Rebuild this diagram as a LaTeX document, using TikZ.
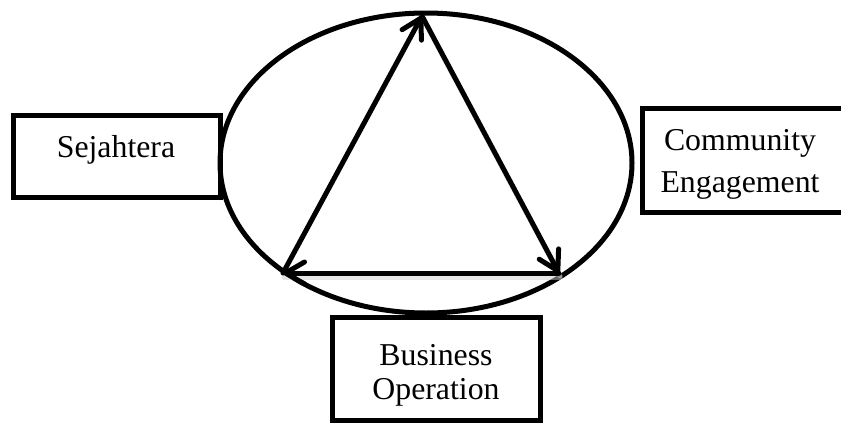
\documentclass[tikz,border=0pt]{standalone}
\usepackage{fontspec}
\setmainfont{Liberation Serif}
\usetikzlibrary{arrows.meta,shapes.geometric}

\tikzset{
  frame/.style={draw=black, line width=5pt, rectangle, inner sep=0pt},
  ring/.style={draw=black, line width=5pt, ellipse, inner sep=0pt},
  word/.style={font=\fontsize{31.8}{40}\selectfont, inner sep=0pt, anchor=base},
  link/.style={line width=5pt, line cap=round, line join=round,
    -{Straight Barb[length=19pt, width=22pt, line cap=round, line join=round]}},
  linkshade/.style={line width=5pt, line cap=round, draw=black!20, opacity=0.5}
}

\begin{document}
\begin{tikzpicture}[x=1pt, y=-1pt]
  \useasboundingbox (0,0) rectangle (841,423);

  % central cycle
  \node[ring, minimum width=412pt, minimum height=300pt] (cycle) at (426,163) {};

  \coordinate (top) at (422,16);
  \coordinate (left) at (283,273);
  \coordinate (right) at (559,273);

  % soft shading under the arrows
  \draw[linkshade] ([shift={(1,3)}]top) -- ([shift={(1,3)}]right);
  \draw[linkshade] ([shift={(1,4)}]right) -- ([shift={(1,4)}]left);

  \draw[link] (left) -- (top);
  \draw[link] (top) -- (right);
  \draw[link] (right) -- (left);

  % boxes
  \node[frame, minimum width=207pt, minimum height=82pt] (sej) at (116.5,156) {};
  \node[word] (sejtxt) at (116,157) {Sejahtera};

  \node[frame, minimum width=210pt, minimum height=104pt] (comm) at (747,160) {};
  \node[word] (commA) at (740,150) {Community};
  \node[word] (commB) at (740,192) {Engagement};

  \node[frame, minimum width=208pt, minimum height=103pt] (bus) at (436,368.5) {};
  \node[word] (busA) at (436,365) {Business};
  \node[word] (busB) at (436,399) {Operation};
\end{tikzpicture}
\end{document}
